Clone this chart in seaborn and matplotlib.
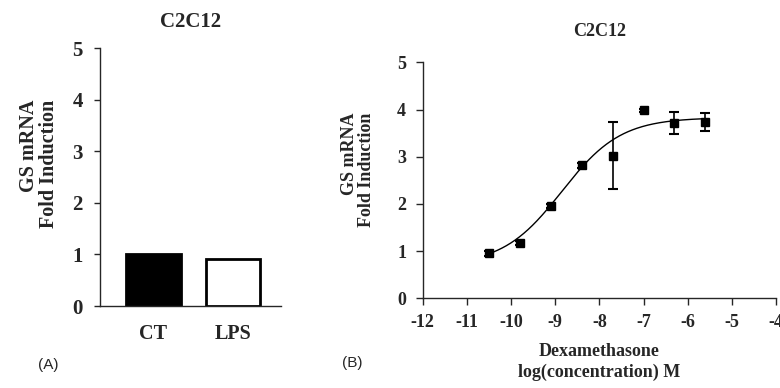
import numpy as np
import matplotlib
matplotlib.use("Agg")
import matplotlib.pyplot as plt
import seaborn as sns

# Panel A: bar chart
groups = ["CT", "LPS"]
fold_a = [1.01, 0.92]
bar_colors = ["black", "white"]

# Panel B: dose response
log_conc = [-10.5, -9.8, -9.1, -8.4, -7.7, -7.0, -6.3, -5.6]
fold_b = [0.95, 1.17, 1.96, 2.82, 3.02, 3.98, 3.72, 3.74]
err_b = [0.05, 0.04, 0.04, 0.05, 0.71, 0.03, 0.23, 0.19]

# 4PL fit
fit_bottom, fit_top, fit_logec50, fit_hill = 0.7, 3.83, -8.85, 0.65

sns.set_style("ticks")
plt.rcParams["font.family"] = ["Liberation Serif", "DejaVu Serif"]
plt.rcParams["font.weight"] = "bold"
plt.rcParams["axes.unicode_minus"] = False

fig = plt.figure(figsize=(7.8, 3.88), dpi=100)

# ---- panel A
ax1 = fig.add_axes([100 / 780, 1 - 306 / 388, 181 / 780, (306 - 48.3) / 388])
sns.barplot(x=groups, y=fold_a, hue=groups, palette=bar_colors, edgecolor="black",
            linewidth=2, width=0.69, legend=False, ax=ax1)
ax1.set_xlim(-0.673, 1.604)
ax1.set_ylim(0, 5)
ax1.set_yticks(range(0, 6))
ax1.tick_params(axis="y", length=4.5, width=1, direction="out", pad=8, labelsize=15)
ax1.tick_params(axis="x", length=0, pad=13, labelsize=14.5)
for lab in ax1.get_xticklabels() + ax1.get_yticklabels():
    lab.set_fontweight("bold")
sns.despine(ax=ax1)
for s in ["left", "bottom"]:
    ax1.spines[s].set_linewidth(1)
ax1.set_xlabel("")
ax1.set_ylabel("")
ax1.set_title("C2C12", fontsize=15, fontweight="bold", pad=15)
fig.text(39 / 780, 1 - 164 / 388, "GS mRNA\nFold Induction", rotation=90, ha="center",
         va="center", multialignment="right", fontsize=14.5, fontweight="bold",
         linespacing=1.0)
fig.text(48 / 780, 1 - 365 / 388, "(A)", ha="center", va="center", fontsize=11,
         family="Liberation Sans", fontweight="normal")

# ---- panel B
ax2 = fig.add_axes([422.7 / 780, 1 - 298.3 / 388, (776 - 422.7) / 780, (298.3 - 62.3) / 388])
xs = np.linspace(min(log_conc), max(log_conc), 200)
ys = fit_bottom + (fit_top - fit_bottom) / (1 + 10 ** ((fit_logec50 - xs) * fit_hill))
sns.lineplot(x=xs, y=ys, color="black", linewidth=1, ax=ax2)
ax2.errorbar(log_conc, fold_b, yerr=err_b, fmt="s", color="black", markersize=6,
             elinewidth=1.2, capsize=3.5, capthick=1.5)
ax2.set_xlim(-12, -4)
ax2.set_ylim(0, 5)
ax2.set_xticks(range(-12, -3))
ax2.set_yticks(range(0, 6))
ax2.tick_params(axis="both", length=5, width=1, direction="out", labelsize=13)
ax2.tick_params(axis="y", pad=7)
ax2.tick_params(axis="x", pad=6)
for lab in ax2.get_xticklabels() + ax2.get_yticklabels():
    lab.set_fontweight("bold")
sns.despine(ax=ax2)
for s in ["left", "bottom"]:
    ax2.spines[s].set_linewidth(1)
ax2.set_title("C2C12", fontsize=13, fontweight="bold", pad=19)
ax2.set_xlabel("Dexamethasone\nlog(concentration) M", fontsize=13, fontweight="bold",
               labelpad=9, linespacing=1.3)
fig.text(358 / 780, 1 - 170 / 388, "GS mRNA\nFold Induction", rotation=90, ha="center",
         va="center", multialignment="right", fontsize=13, fontweight="bold",
         linespacing=1.0)
fig.text(352 / 780, 1 - 363 / 388, "(B)", ha="center", va="center", fontsize=11,
         family="Liberation Sans", fontweight="normal")

fig.savefig("out.png", dpi=100)
